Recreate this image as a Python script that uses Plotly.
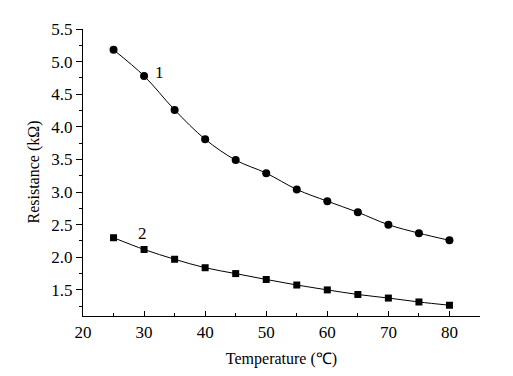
import plotly.graph_objects as go

temperature = [25, 30, 35, 40, 45, 50, 55, 60, 65, 70, 75, 80]
resistance_1 = [5.18, 4.78, 4.26, 3.81, 3.49, 3.29, 3.04, 2.86, 2.69, 2.50, 2.37, 2.26]
resistance_2 = [2.30, 2.12, 1.97, 1.84, 1.75, 1.66, 1.575, 1.50, 1.43, 1.375, 1.315, 1.265]
x_ticks = [20, 30, 40, 50, 60, 70, 80]
y_ticks = [1.5, 2.0, 2.5, 3.0, 3.5, 4.0, 4.5, 5.0, 5.5]

font = "Liberation Serif"

fig = go.Figure()
fig.add_trace(go.Scatter(
    x=temperature, y=resistance_1, mode="lines+markers",
    line=dict(color="black", width=1, shape="spline"),
    marker=dict(symbol="circle", size=8, color="black"),
    showlegend=False))
fig.add_trace(go.Scatter(
    x=temperature, y=resistance_2, mode="lines+markers",
    line=dict(color="black", width=1, shape="spline"),
    marker=dict(symbol="square", size=7, color="black"),
    showlegend=False))

fig.add_annotation(x=32.6, y=4.83, text="1", showarrow=False,
                   font=dict(family=font, size=17, color="black"))
fig.add_annotation(x=29.7, y=2.36, text="2", showarrow=False,
                   font=dict(family=font, size=17, color="black"))
# y-axis title
fig.add_annotation(x=0, y=0.5, xref="paper", yref="paper", xshift=-50,
                   xanchor="center", yanchor="middle",
                   text="Resistance (kΩ)", textangle=-90, showarrow=False,
                   font=dict(family=font, size=16, color="black"))

fig.update_layout(
    width=513, height=376,
    margin=dict(l=75, r=41, t=15, b=68),
    paper_bgcolor="white", plot_bgcolor="white",
    font=dict(family=font, size=15, color="black"),
    xaxis=dict(
        range=[20, 85], tickvals=x_ticks, ticks="inside", ticklen=5,
        tickcolor="black", showline=True, linecolor="black", linewidth=1.2,
        showgrid=False, zeroline=False,
        minor=dict(dtick=5, tick0=20, ticks="inside", ticklen=3, tickcolor="black"),
        title=dict(text="Temperature (℃)", font=dict(size=16), standoff=12),
        tickfont=dict(size=17)),
    yaxis=dict(
        range=[1.1, 5.5], tickvals=y_ticks, ticktext=[f"{v:.1f}" for v in y_ticks],
        ticks="outside", ticklen=6,
        tickcolor="black", showline=True, linecolor="black", linewidth=1.2,
        showgrid=False, zeroline=False,
        minor=dict(dtick=0.25, tick0=1.0, ticks="outside", ticklen=3, tickcolor="black"),
        tickfont=dict(size=17)),
)

fig.write_html("out.html")
